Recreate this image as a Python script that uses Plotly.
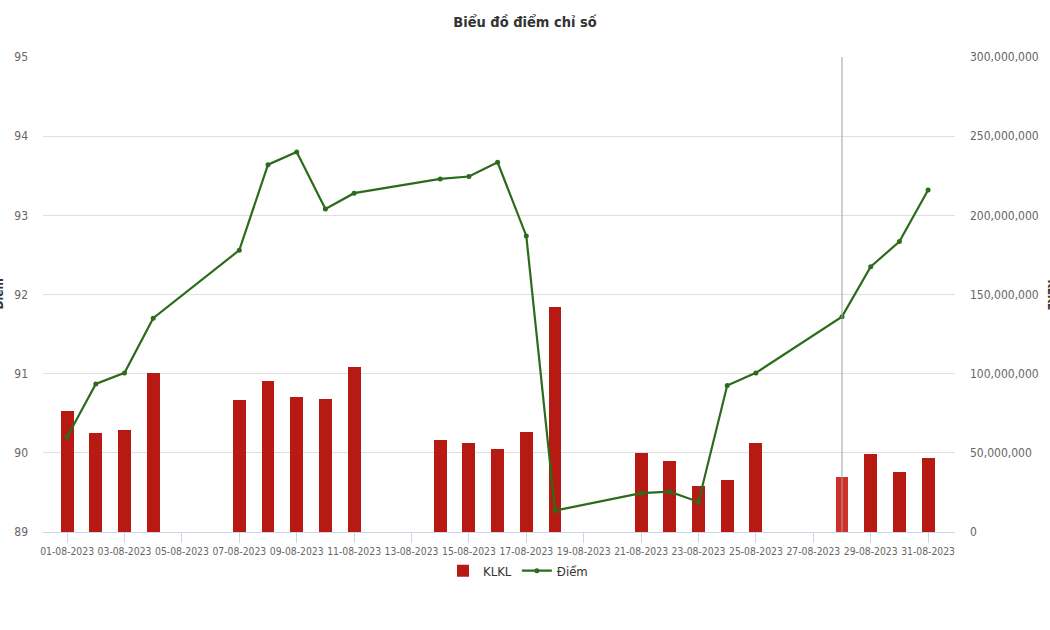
import plotly.graph_objects as go

dates = ["2023-08-01", "2023-08-02", "2023-08-03", "2023-08-04", "2023-08-07",
         "2023-08-08", "2023-08-09", "2023-08-10", "2023-08-11", "2023-08-14",
         "2023-08-15", "2023-08-16", "2023-08-17", "2023-08-18", "2023-08-21",
         "2023-08-22", "2023-08-23", "2023-08-24", "2023-08-25", "2023-08-28",
         "2023-08-29", "2023-08-30", "2023-08-31"]
klkl = [76.5e6, 62.7e6, 64.2e6, 100.2e6, 83.4e6,
        95.6e6, 85.5e6, 84.0e6, 104.4e6, 58.1e6,
        56.0e6, 52.2e6, 63.3e6, 141.9e6, 49.7e6,
        45.0e6, 29.0e6, 32.8e6, 56.0e6, 35.0e6,
        49.0e6, 37.7e6, 46.5e6]
diem = [90.20, 90.87, 91.01, 91.70, 92.56,
        93.64, 93.80, 93.08, 93.28, 93.46,
        93.49, 93.67, 92.74, 89.27, 89.49,
        89.51, 89.38, 90.85, 91.01, 91.72,
        92.35, 92.67, 93.32]
tick_dates = ["2023-08-%02d" % d for d in range(1, 32, 2)]
tick_labels = ["%02d-08-2023" % d for d in range(1, 32, 2)]
hover_date = "2023-08-28"

FONT = "DejaVu Sans Condensed, Liberation Sans Narrow, Roboto, sans-serif"
bar_colors = ["#d1302a" if d == hover_date else "#b71a12" for d in dates]

fig = go.Figure()
fig.add_trace(go.Bar(
    x=dates, y=klkl, name="KLKL", yaxis="y",
    marker=dict(color=bar_colors, line=dict(width=0)),
    width=39000000,
))
fig.add_trace(go.Scatter(
    x=dates, y=diem, name="Điểm", yaxis="y2",
    mode="lines+markers",
    line=dict(color="#2c6b1c", width=2.2),
    marker=dict(color="#2c6b1c", size=5),
))

fig.add_shape(type="line", x0=hover_date, x1=hover_date, xref="x",
              y0=0, y1=1, yref="paper", line=dict(color="#a0a0a0", width=1))

fig.update_layout(
    width=1050, height=630,
    margin=dict(l=43, r=95, t=57, b=98),
    paper_bgcolor="white", plot_bgcolor="white",
    font=dict(family=FONT, color="#666666", size=11),
    title=dict(text="<b>Biểu đồ điểm chỉ số</b>", x=0.5, xanchor="center",
               y=0.965, yanchor="middle",
               font=dict(family=FONT, size=14.5, color="#333333")),
    showlegend=True,
    legend=dict(orientation="h", x=(443 - 43) / 912, xanchor="left", y=-0.05, yanchor="top",
                font=dict(family=FONT, size=13, color="#333333"),
                traceorder="normal", itemwidth=30),
    bargap=0,
    xaxis=dict(
        type="date",
        range=["2023-07-31 03:50", "2023-08-31 22:30"],
        tickvals=tick_dates, ticktext=tick_labels, tickangle=0,
        ticks="outside", ticklen=10, tickcolor="#ccd6eb",
        showline=True, linecolor="#ccd6eb", linewidth=1,
        showgrid=False, zeroline=False,
        tickfont=dict(family=FONT, size=10.3, color="#666666"),
    ),
    yaxis=dict(
        range=[0, 300e6], dtick=50e6, tick0=0,
        side="right",
        showgrid=True, gridcolor="#e0e0e0", gridwidth=1,
        zeroline=False, showline=False,
        tickformat=",d", ticks="", ticklabelstandoff=14,
        tickfont=dict(family=FONT, size=12, color="#666666"),
    ),
    yaxis2=dict(
        range=[89, 95], dtick=1, tick0=89,
        overlaying="y", side="left",
        showgrid=False, zeroline=False, showline=False,
        ticks="", ticklabelstandoff=14,
        tickfont=dict(family=FONT, size=12, color="#666666"),
    ),
)

fig.add_annotation(text="<b>Điểm</b>", textangle=-90, xref="paper", yref="paper",
                   x=-43/912, xanchor="center", y=0.5, yanchor="middle", xshift=-2,
                   showarrow=False, font=dict(family=FONT, size=12, color="#333333"))
fig.add_annotation(text="<b>KLKL</b>", textangle=90, xref="paper", yref="paper",
                   x=1 + 95/912, xanchor="center", y=0.5, yanchor="middle", xshift=2,
                   showarrow=False, font=dict(family=FONT, size=12, color="#333333"))

fig.write_html("out.html")
